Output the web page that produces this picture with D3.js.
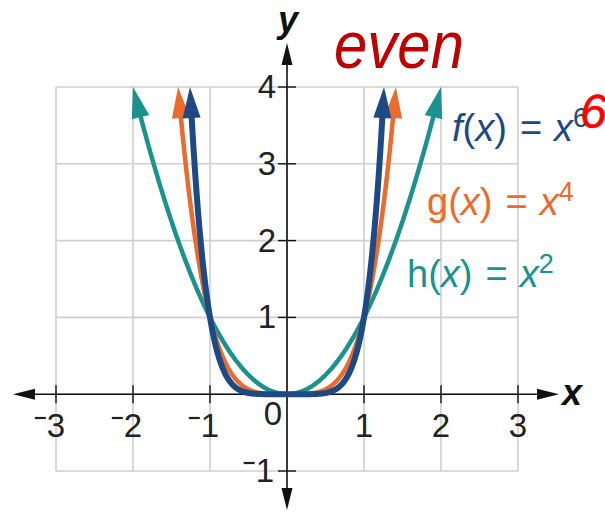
<!DOCTYPE html>
<html>
<head>
<meta charset="utf-8">
<script src="https://cdn.jsdelivr.net/npm/d3@7"></script>
<style>
  html, body { margin: 0; padding: 0; background: #fff; }
  svg { display: block; }
  text { font-family: "Liberation Sans", Arial, sans-serif; }
</style>
</head>
<body>
<svg id="chart" width="605" height="513"></svg>
<script>
// Axis ticks
const xTicks = [-3, -2, -1, 1, 2, 3];
const yTicks = [-1, 1, 2, 3, 4];
const xGrid = [-3, -2, -1, 0, 1, 2, 3];
const yGrid = [-1, 0, 1, 2, 3, 4];

// Power functions y = x^n, each drawn up to y = 4
const fnNames = ["h", "g", "f"];
const exponents = [2, 4, 6];
const fnColors = ["#1a938e", "#ec6a2c", "#1d4a84"];
const fnWidths = [4.5, 4.5, 6];
const yMax = 4;

// Label placement (pixel layout)
const labelPos = [
  { x: 407, y: 287 },
  { x: 427, y: 215 },
  { x: 452, y: 141 }
];

const svg = d3.select("#chart");
const x = d3.scaleLinear().domain([-3, 3]).range([56, 518]);
const y = d3.scaleLinear().domain([-1, 4]).range([471, 87]);

// Grid
const grid = svg.append("g").attr("stroke", "#cfcfcf").attr("stroke-width", 1.6);
grid.selectAll(".v").data(xGrid).join("line")
  .attr("x1", d => x(d)).attr("x2", d => x(d))
  .attr("y1", y(-1)).attr("y2", y(4));
grid.selectAll(".h").data(yGrid).join("line")
  .attr("y1", d => y(d)).attr("y2", d => y(d))
  .attr("x1", x(-3)).attr("x2", x(3));

// Axes with arrowheads
const axes = svg.append("g");
const axLeft = 13, axRight = 559, axTop = 43, axBottom = 510;
axes.append("line").attr("x1", axLeft + 10).attr("x2", axRight - 10)
  .attr("y1", y(0)).attr("y2", y(0)).attr("stroke", "#111").attr("stroke-width", 1.6);
axes.append("line").attr("y1", axTop + 10).attr("y2", axBottom - 10)
  .attr("x1", x(0)).attr("x2", x(0)).attr("stroke", "#111").attr("stroke-width", 1.6);
const ah = 22, aw = 5.5;
axes.append("path").attr("fill", "#111").attr("d",
  `M${axRight},${y(0)} L${axRight - ah},${y(0) - aw} L${axRight - ah},${y(0) + aw} Z`);
axes.append("path").attr("fill", "#111").attr("d",
  `M${axLeft},${y(0)} L${axLeft + ah},${y(0) - aw} L${axLeft + ah},${y(0) + aw} Z`);
axes.append("path").attr("fill", "#111").attr("d",
  `M${x(0)},${axTop} L${x(0) - aw},${axTop + ah} L${x(0) + aw},${axTop + ah} Z`);
axes.append("path").attr("fill", "#111").attr("d",
  `M${x(0)},${axBottom} L${x(0) - aw},${axBottom - ah} L${x(0) + aw},${axBottom - ah} Z`);

// Tick marks
axes.selectAll(".xt").data(xTicks).join("line")
  .attr("x1", d => x(d)).attr("x2", d => x(d))
  .attr("y1", y(0) - 9).attr("y2", y(0) + 9)
  .attr("stroke", "#111").attr("stroke-width", 1.4);
axes.selectAll(".yt").data(yTicks).join("line")
  .attr("y1", d => y(d)).attr("y2", d => y(d))
  .attr("x1", x(0) - 9).attr("x2", x(0) + 9)
  .attr("stroke", "#111").attr("stroke-width", 1.4);

// Tick labels: digit plus raised minus for negatives
const tickFont = 33;
function tickLabel(g, cx, baseline, v, anchor) {
  const t = g.append("text").attr("font-size", tickFont).attr("fill", "#222")
    .attr("x", cx).attr("y", baseline).attr("text-anchor", anchor)
    .text(Math.abs(v));
  if (v < 0) {
    const bb = t.node().getBBox();
    g.append("line")
      .attr("x1", bb.x - 12).attr("x2", bb.x - 1)
      .attr("y1", baseline - 19).attr("y2", baseline - 19)
      .attr("stroke", "#222").attr("stroke-width", 2.2);
  }
}
const labels = svg.append("g");
xTicks.forEach(v => tickLabel(labels, x(v), 437, v, "middle"));
yTicks.forEach(v => {
  if (v < 0) tickLabel(labels, x(0) - 13, y(v) + 11, v, "end");
  else tickLabel(labels, x(0) - 11, y(v) + 11, v, "end");
});
labels.append("text").attr("font-size", tickFont).attr("fill", "#222")
  .attr("x", 273).attr("y", 425).attr("text-anchor", "middle").text("0");

// Axis names
svg.append("text").attr("x", 572).attr("y", 405).attr("text-anchor", "middle")
  .attr("font-size", 36).attr("font-weight", "bold").attr("font-style", "italic")
  .attr("fill", "#111").text("x");
svg.append("text").attr("x", 288).attr("y", 32).attr("text-anchor", "middle")
  .attr("font-size", 36).attr("font-weight", "bold").attr("font-style", "italic")
  .attr("fill", "#111").text("y");

// Curves with arrowheads at both ends
const curves = svg.append("g");
const arrowLen = 31, arrowHalf = 9;
exponents.forEach((n, i) => {
  const xe = Math.pow(yMax, 1 / n);
  const N = 400;
  const pts = d3.range(N + 1).map(k => {
    const xv = -xe + (2 * xe * k) / N;
    return [x(xv), y(Math.pow(xv, n))];
  });
  const tipR = [x(xe), y(yMax)], tipL = [x(-xe), y(yMax)];
  const trimmed = pts.filter(p =>
    Math.hypot(p[0] - tipR[0], p[1] - tipR[1]) > arrowLen - 8 &&
    Math.hypot(p[0] - tipL[0], p[1] - tipL[1]) > arrowLen - 8);
  curves.append("path")
    .attr("d", d3.line()(trimmed))
    .attr("fill", "none").attr("stroke", fnColors[i])
    .attr("stroke-width", fnWidths[i]).attr("stroke-linejoin", "round");
  // tangent direction in pixel space at each end
  const slope = n * Math.pow(xe, n - 1);
  const kx = x(1) - x(0), ky = y(0) - y(1);
  [1, -1].forEach(s => {
    let dx = s * kx, dy = -ky * slope;
    const len = Math.hypot(dx, dy);
    dx /= len; dy /= len;
    const tip = s > 0 ? tipR : tipL;
    const bx = tip[0] - dx * arrowLen, by = tip[1] - dy * arrowLen;
    const px = -dy, py = dx;
    curves.append("path").attr("fill", fnColors[i]).attr("d",
      `M${tip[0]},${tip[1]} L${bx + px * arrowHalf},${by + py * arrowHalf} ` +
      `L${bx - px * arrowHalf},${by - py * arrowHalf} Z`);
  });
});

// Function labels
exponents.forEach((n, i) => {
  const t = svg.append("text").attr("x", labelPos[i].x).attr("y", labelPos[i].y)
    .attr("font-size", 38).attr("fill", fnColors[i]);
  t.append("tspan").attr("font-style", fnNames[i] === "f" ? "italic" : "normal").text(fnNames[i]);
  t.append("tspan").text("(");
  t.append("tspan").attr("font-style", "italic").text("x");
  t.append("tspan").text(")");
  t.append("tspan").attr("dx", 13).text("=");
  t.append("tspan").attr("dx", 12).attr("font-style", "italic").text("x");
  t.append("tspan").attr("font-size", 27).attr("dy", -14).text(n);
});

// Handwritten notes
svg.append("text").attr("x", 334).attr("y", 68)
  .attr("font-family", "'Liberation Serif', serif").attr("font-style", "italic")
  .attr("font-size", 66).attr("fill", "#c00000").attr("textLength", 130)
  .attr("lengthAdjust", "spacingAndGlyphs").text("even");
svg.append("text").attr("x", 580).attr("y", 128)
  .attr("font-family", "'Liberation Sans', sans-serif")
  .attr("font-style", "italic").attr("stroke", "#f00").attr("stroke-width", 0.6)
  .attr("font-size", 48).attr("fill", "#f00").text("6");
</script>
</body>
</html>
